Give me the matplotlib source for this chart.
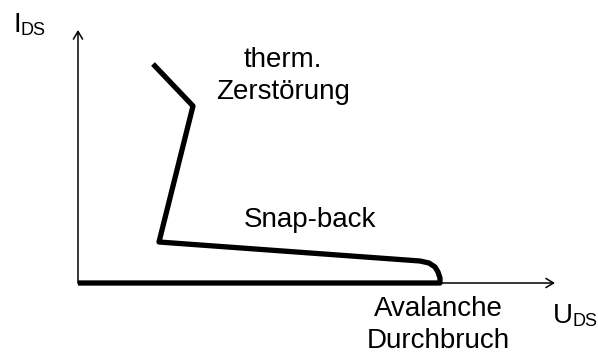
"""Snap-back characteristic sketch: I_DS vs U_DS with avalanche and thermal breakdown."""
import matplotlib.pyplot as plt

plt.rcParams['font.family'] = ['Liberation Sans', 'DejaVu Sans']

W, H = 598, 353

# curve (pixel coordinates, y downwards)
curve_x = [153, 193, 159, 420, 429, 435, 438, 440, 440, 78]
curve_y = [64, 106, 242, 261, 263, 267, 272, 278, 283, 283]

origin = (78, 283)
x_axis_end = 555
y_axis_end = 30

fig = plt.figure(figsize=(W / 100, H / 100), dpi=100)
ax = fig.add_axes([0, 0, 1, 1])
ax.set_xlim(0, W)
ax.set_ylim(H, 0)
ax.axis('off')

arrow = dict(arrowstyle='->,head_length=0.55,head_width=0.33', color='black',
             linewidth=1.1, shrinkA=0, shrinkB=0)
ax.annotate('', xy=(x_axis_end, origin[1]), xytext=origin, arrowprops=arrow)
ax.annotate('', xy=(origin[0], y_axis_end), xytext=origin, arrowprops=arrow)

ax.plot(curve_x, curve_y, color='black', linewidth=3.8,
        solid_joinstyle='round', solid_capstyle='butt')

fs = 20
sub = 13
# axis labels with subscripts
ax.text(14, 32, 'I', fontsize=fs, va='baseline', ha='left')
ax.text(21, 35, 'DS', fontsize=sub, va='baseline', ha='left')
ax.text(553, 323, 'U', fontsize=fs, va='baseline', ha='left')
ax.text(573, 326, 'DS', fontsize=sub, va='baseline', ha='left')

ax.text(283, 67, 'therm.', fontsize=fs, va='baseline', ha='center')
ax.text(283, 99, 'Zerstörung', fontsize=fs, va='baseline', ha='center')
ax.text(310, 227, 'Snap-back', fontsize=fs, va='baseline', ha='center')
ax.text(438, 316, 'Avalanche', fontsize=fs, va='baseline', ha='center')
ax.text(438, 348, 'Durchbruch', fontsize=fs, va='baseline', ha='center')

fig.savefig('out.png', dpi=100)
plt.close(fig)
